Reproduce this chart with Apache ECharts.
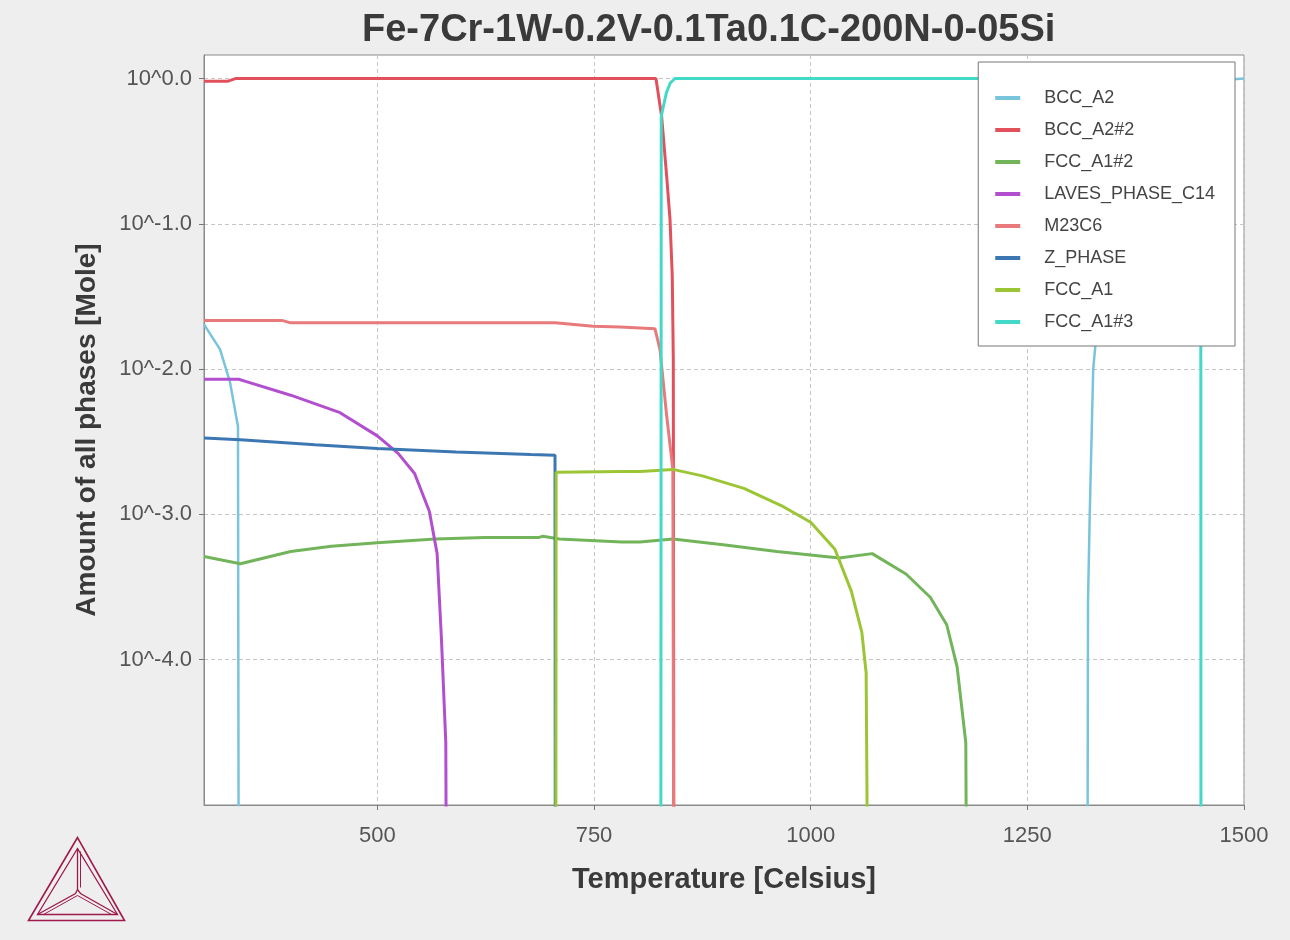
<!DOCTYPE html>
<html>
<head>
<meta charset="utf-8">
<title>Fe-7Cr-1W-0.2V-0.1Ta0.1C-200N-0-05Si</title>
<script src="https://cdn.jsdelivr.net/npm/echarts@6.0.0/dist/echarts.min.js"></script>
<style>
  html, body { margin: 0; padding: 0; background: #eeeeee; }
  #echart { width: 1290px; height: 940px; }
</style>
</head>
<body>
<div id="echart"></div>
<script>
// 数据 (温度 ℃ / 摩尔量)
const xTicks = [500, 750, 1000, 1250, 1500]
const yTicks = [0.0001, 0.001, 0.01, 0.1, 1]

const bccA2T = [300, 318.5, 330, 339.2, 340.4]
const bccA2V = [0.0203, 0.01365, 0.00813, 0.00403, 1e-7]
const bccA2HighT = [1319, 1320, 1322, 1326, 1340, 1400, 1450, 1500]
const bccA2HighV = [1e-7, 0.00025, 0.001, 0.01, 0.08, 0.45, 0.95, 1.0]

const bccA2n2T = [300, 327, 337, 821.5, 828, 833.8, 837.7, 840.3, 841.5, 842.5]
const bccA2n2V = [0.955, 0.955, 1.0, 1.0, 0.55, 0.214, 0.107, 0.0437, 0.0117, 1e-7]

const fccA1n2T = [300, 342, 400, 447, 500, 567, 624, 686, 691, 710, 782, 803, 841, 899, 961, 1033, 1071, 1110, 1138, 1157, 1169, 1179, 1181]
const fccA1n2V = [0.000513, 0.000457, 0.000556, 0.000603, 0.000637, 0.000676, 0.000692, 0.000692, 0.000708, 0.000676, 0.000646, 0.000646, 0.000676, 0.000617, 0.000556, 0.000501, 0.000537, 0.000389, 0.000269, 0.000174, 0.0000891, 0.0000269, 1e-7]

const lavesT = [300, 340, 348, 400, 457, 500, 524, 543, 560, 569, 574, 579, 580.5]
const lavesV = [0.00851, 0.00851, 0.00822, 0.00661, 0.00501, 0.00347, 0.00263, 0.00191, 0.00105, 0.000537, 0.000138, 0.0000269, 1e-7]

const m23c6T = [300, 390, 400, 705, 749, 780, 820.4, 826.1, 833.9, 841, 842.5]
const m23c6V = [0.02163, 0.02163, 0.0208, 0.0208, 0.01972, 0.0195, 0.01892, 0.01365, 0.00474, 0.00204, 1e-7]

const zPhaseT = [300, 342, 428, 500, 591, 677, 705, 705.5]
const zPhaseV = [0.00335, 0.00326, 0.00302, 0.00284, 0.00269, 0.00258, 0.00255, 1e-7]

const fccA1T = [705.8, 706.3, 782, 803, 841, 875, 923, 966, 1000, 1028, 1047, 1059, 1064, 1067.5]
const fccA1V = [1e-7, 0.00195, 0.00197, 0.00197, 0.00204, 0.00184, 0.00151, 0.00115, 0.000883, 0.000575, 0.000295, 0.000155, 0.0000813, 1e-7]

const fccA1n3T = [827, 827.6, 833.6, 838, 843.4, 1446, 1449.5, 1450.2, 1450.4]
const fccA1n3V = [1e-7, 0.55, 0.80, 0.93, 1.0, 1.0, 0.3, 0.01, 1e-7]

const names = ['BCC_A2', 'BCC_A2#2', 'FCC_A1#2', 'LAVES_PHASE_C14', 'M23C6', 'Z_PHASE', 'FCC_A1', 'FCC_A1#3']
const colors = ['#78c4dd', '#e2505c', '#72b45a', '#b24fcf', '#e87a7c', '#3d77b2', '#9cc536', '#43d9c9']

const toPairs = (xs, ys) => xs.map((x, i) => [x, ys[i]])

const seriesData = [
    toPairs(bccA2T, bccA2V).concat([['-', '-']], toPairs(bccA2HighT, bccA2HighV)),
    toPairs(bccA2n2T, bccA2n2V),
    toPairs(fccA1n2T, fccA1n2V),
    toPairs(lavesT, lavesV),
    toPairs(m23c6T, m23c6V),
    toPairs(zPhaseT, zPhaseV),
    toPairs(fccA1T, fccA1V),
    toPairs(fccA1n3T, fccA1n3V)
]

const fontFamily = '"Liberation Sans", Arial, sans-serif'
const logoColor = '#9e1a4c'

const showEchart = () => {
    const chartDom = document.getElementById('echart')
    const myChart = echarts.init(chartDom, null, { renderer: 'canvas' })

    const series = names.map((name, i) => ({
        name: name,
        type: 'line',
        data: seriesData[i],
        showSymbol: false,
        connectNulls: false,
        animation: false,
        lineStyle: { width: i === 0 ? 2.5 : 3, color: colors[i] },
        itemStyle: { color: colors[i] }
    }))

    const option = {
        backgroundColor: '#eeeeee',
        animation: false,
        textStyle: { fontFamily: fontFamily },
        title: {
            text: 'Fe-7Cr-1W-0.2V-0.1Ta0.1C-200N-0-05Si',
            left: 357,
            top: 7,
            textStyle: { fontSize: 38, fontWeight: 'bold', color: '#3a3a3a', fontFamily: fontFamily }
        },
        grid: {
            left: 204,
            top: 55,
            right: 46,
            bottom: 135,
            show: true,
            backgroundColor: '#ffffff',
            borderColor: '#8a8a8a',
            borderWidth: 1
        },
        legend: {
            data: names,
            orient: 'vertical',
            right: 55,
            top: 62,
            padding: [27, 20, 15, 17],
            itemGap: 14,
            itemWidth: 25,
            itemHeight: 4,
            icon: 'rect',
            backgroundColor: '#ffffff',
            borderColor: '#777777',
            borderWidth: 1,
            borderRadius: 0,
            selectedMode: false,
            textStyle: { fontSize: 18, color: '#444444', padding: [0, 0, 0, 19], fontFamily: fontFamily }
        },
        xAxis: {
            type: 'value',
            min: 300,
            max: 1500,
            name: 'Temperature [Celsius]',
            nameLocation: 'middle',
            nameGap: 60,
            nameTextStyle: { fontSize: 29, fontWeight: 'bold', color: '#3a3a3a', fontFamily: fontFamily },
            axisLine: { show: true, lineStyle: { color: '#8a8a8a' } },
            axisTick: { show: true, length: 5, customValues: xTicks, lineStyle: { color: '#777' } },
            axisLabel: {
                customValues: xTicks,
                fontSize: 22,
                color: '#555555',
                margin: 20,
                fontFamily: fontFamily,
                formatter: (v) => String(v)
            },
            splitLine: { show: true, lineStyle: { color: '#c6c6c6', type: [4, 3], width: 1 } }
        },
        yAxis: {
            type: 'log',
            logBase: 10,
            min: 1e-5,
            max: 1.45,
            name: 'Amount of all phases [Mole]',
            nameLocation: 'middle',
            nameGap: 103,
            nameTextStyle: { fontSize: 28, fontWeight: 'bold', color: '#3a3a3a', fontFamily: fontFamily },
            axisLine: { show: true, lineStyle: { color: '#8a8a8a' } },
            axisTick: { show: true, length: 5, customValues: yTicks, lineStyle: { color: '#777' } },
            axisLabel: {
                customValues: yTicks,
                fontSize: 22,
                color: '#555555',
                margin: 12,
                fontFamily: fontFamily,
                formatter: (v) => {
                    const e = Math.round(Math.log10(v))
                    return '10^' + e.toFixed(1)
                }
            },
            splitLine: { show: true, lineStyle: { color: '#c6c6c6', type: [4, 3], width: 1 } }
        },
        graphic: [
            {
                type: 'group',
                left: 26,
                top: 835,
                silent: true,
                children: [
                    { type: 'polygon', shape: { points: [[49, 0], [0, 83], [96, 83]] }, style: { fill: 'none', stroke: logoColor, lineWidth: 1.6 } },
                    { type: 'polygon', shape: { points: [[49, 11], [9, 77], [89, 77]] }, style: { fill: 'none', stroke: logoColor, lineWidth: 1.3 } },
                    { type: 'polyline', shape: { points: [[49, 11], [49, 52]] }, style: { fill: 'none', stroke: logoColor, lineWidth: 1.3 } },
                    { type: 'polyline', shape: { points: [[52, 14], [52, 50]] }, style: { fill: 'none', stroke: logoColor, lineWidth: 1 } },
                    { type: 'polyline', shape: { points: [[9, 77], [47, 56], [49, 52], [52, 56], [89, 77]] }, style: { fill: 'none', stroke: logoColor, lineWidth: 1.3 } },
                    { type: 'polyline', shape: { points: [[15, 77], [49, 58], [83, 77]] }, style: { fill: 'none', stroke: logoColor, lineWidth: 1 } }
                ]
            }
        ],
        series: series
    }
    myChart.setOption(option)
}

showEchart()
</script>
</body>
</html>
